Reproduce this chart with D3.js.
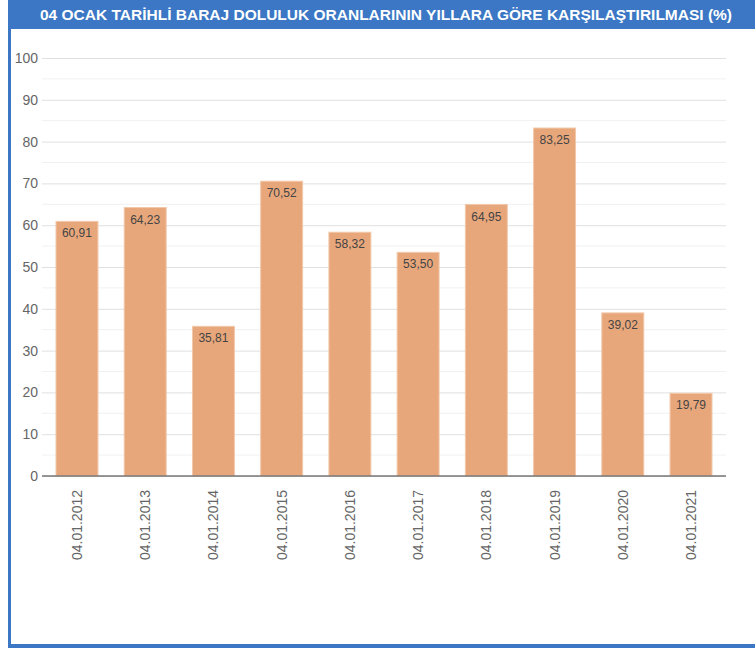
<!DOCTYPE html>
<html>
<head>
<meta charset="utf-8">
<script src="https://cdn.jsdelivr.net/npm/d3@7"></script>
<style>
  body { margin: 0; background: #fff; }
  svg { display: block; }
</style>
</head>
<body>
<div id="chart"></div>
<script>
const title = "04 OCAK TARİHLİ BARAJ DOLULUK ORANLARININ YILLARA GÖRE KARŞILAŞTIRILMASI (%)";
const dates = ["04.01.2012", "04.01.2013", "04.01.2014", "04.01.2015", "04.01.2016",
               "04.01.2017", "04.01.2018", "04.01.2019", "04.01.2020", "04.01.2021"];
const values = [60.91, 64.23, 35.81, 70.52, 58.32, 53.50, 64.95, 83.25, 39.02, 19.79];
const yTicks = [0, 10, 20, 30, 40, 50, 60, 70, 80, 90, 100];
const yMinorTicks = [5, 15, 25, 35, 45, 55, 65, 75, 85, 95];

const width = 755;
const height = 648;
const margin = { top: 58, right: 29, bottom: 172, left: 42 };

const svg = d3.select("#chart")
              .append("svg")
              .attr("width", width)
              .attr("height", height);

// frame: blue left edge, bottom edge and title bar
const blue = "#3b77c4";
svg.append("rect").attr("x", 8).attr("y", 0).attr("width", 3).attr("height", 647).attr("fill", blue);
svg.append("rect").attr("x", 8).attr("y", 644).attr("width", width - 8).attr("height", 4).attr("fill", blue);
svg.append("rect").attr("x", 8).attr("y", 0).attr("width", width - 8).attr("height", 29).attr("fill", blue);

svg.append("text")
   .attr("x", 386)
   .attr("y", 20)
   .attr("text-anchor", "middle")
   .attr("fill", "#fff")
   .style("font-family", "Arial, 'Liberation Sans', sans-serif")
   .style("font-weight", "bold")
   .style("font-size", "15.5px")
   .text(title);

const x = d3.scaleBand()
            .domain(dates)
            .range([margin.left, width - margin.right])
            .paddingInner(0.385)
            .paddingOuter(0.205);

const y = d3.scaleLinear()
            .domain([0, 100])
            .range([height - margin.bottom, margin.top]);

// minor gridlines
svg.append("g")
   .selectAll("line")
   .data(yMinorTicks)
   .join("line")
   .attr("x1", margin.left)
   .attr("x2", width - margin.right)
   .attr("y1", d => y(d))
   .attr("y2", d => y(d))
   .attr("stroke", "#f1f1f1")
   .attr("stroke-width", 1);

// major gridlines + labels
const yAxis = svg.append("g")
   .attr("transform", `translate(${margin.left},0)`)
   .call(d3.axisLeft(y).tickValues(yTicks).tickSize(-(width - margin.left - margin.right)).tickPadding(4));
yAxis.select(".domain").remove();
yAxis.selectAll(".tick line").attr("stroke", "#e0e0e0");
yAxis.selectAll(".tick text")
     .attr("fill", "#666")
     .style("font-family", "Arial, 'Liberation Sans', sans-serif")
     .style("font-size", "14px");

// bars
svg.append("g")
   .selectAll("rect")
   .data(values)
   .join("rect")
   .attr("x", (d, i) => x(dates[i]))
   .attr("y", d => y(d))
   .attr("width", x.bandwidth())
   .attr("height", d => y(0) - y(d))
   .attr("fill", "#e8a77b")
   .attr("stroke", "#f2c8aa")
   .attr("stroke-width", 1);

// value labels inside bars
svg.append("g")
   .selectAll("text")
   .data(values)
   .join("text")
   .attr("x", (d, i) => x(dates[i]) + x.bandwidth() / 2)
   .attr("y", d => y(d) + 16)
   .attr("text-anchor", "middle")
   .attr("fill", "#444")
   .style("font-family", "Arial, 'Liberation Sans', sans-serif")
   .style("font-size", "12px")
   .text(d => d.toFixed(2).replace(".", ","));

// baseline
svg.append("line")
   .attr("x1", margin.left)
   .attr("x2", width - margin.right)
   .attr("y1", y(0))
   .attr("y2", y(0))
   .attr("stroke", "#777")
   .attr("stroke-width", 1.5);

// x labels, rotated
svg.append("g")
   .selectAll("text")
   .data(dates)
   .join("text")
   .attr("transform", d => `translate(${x(d) + x.bandwidth() / 2 + 5},${y(0) + 14}) rotate(-90)`)
   .attr("text-anchor", "end")
   .attr("fill", "#666")
   .style("font-family", "Arial, 'Liberation Sans', sans-serif")
   .style("font-size", "14px")
   .text(d => d);
</script>
</body>
</html>
